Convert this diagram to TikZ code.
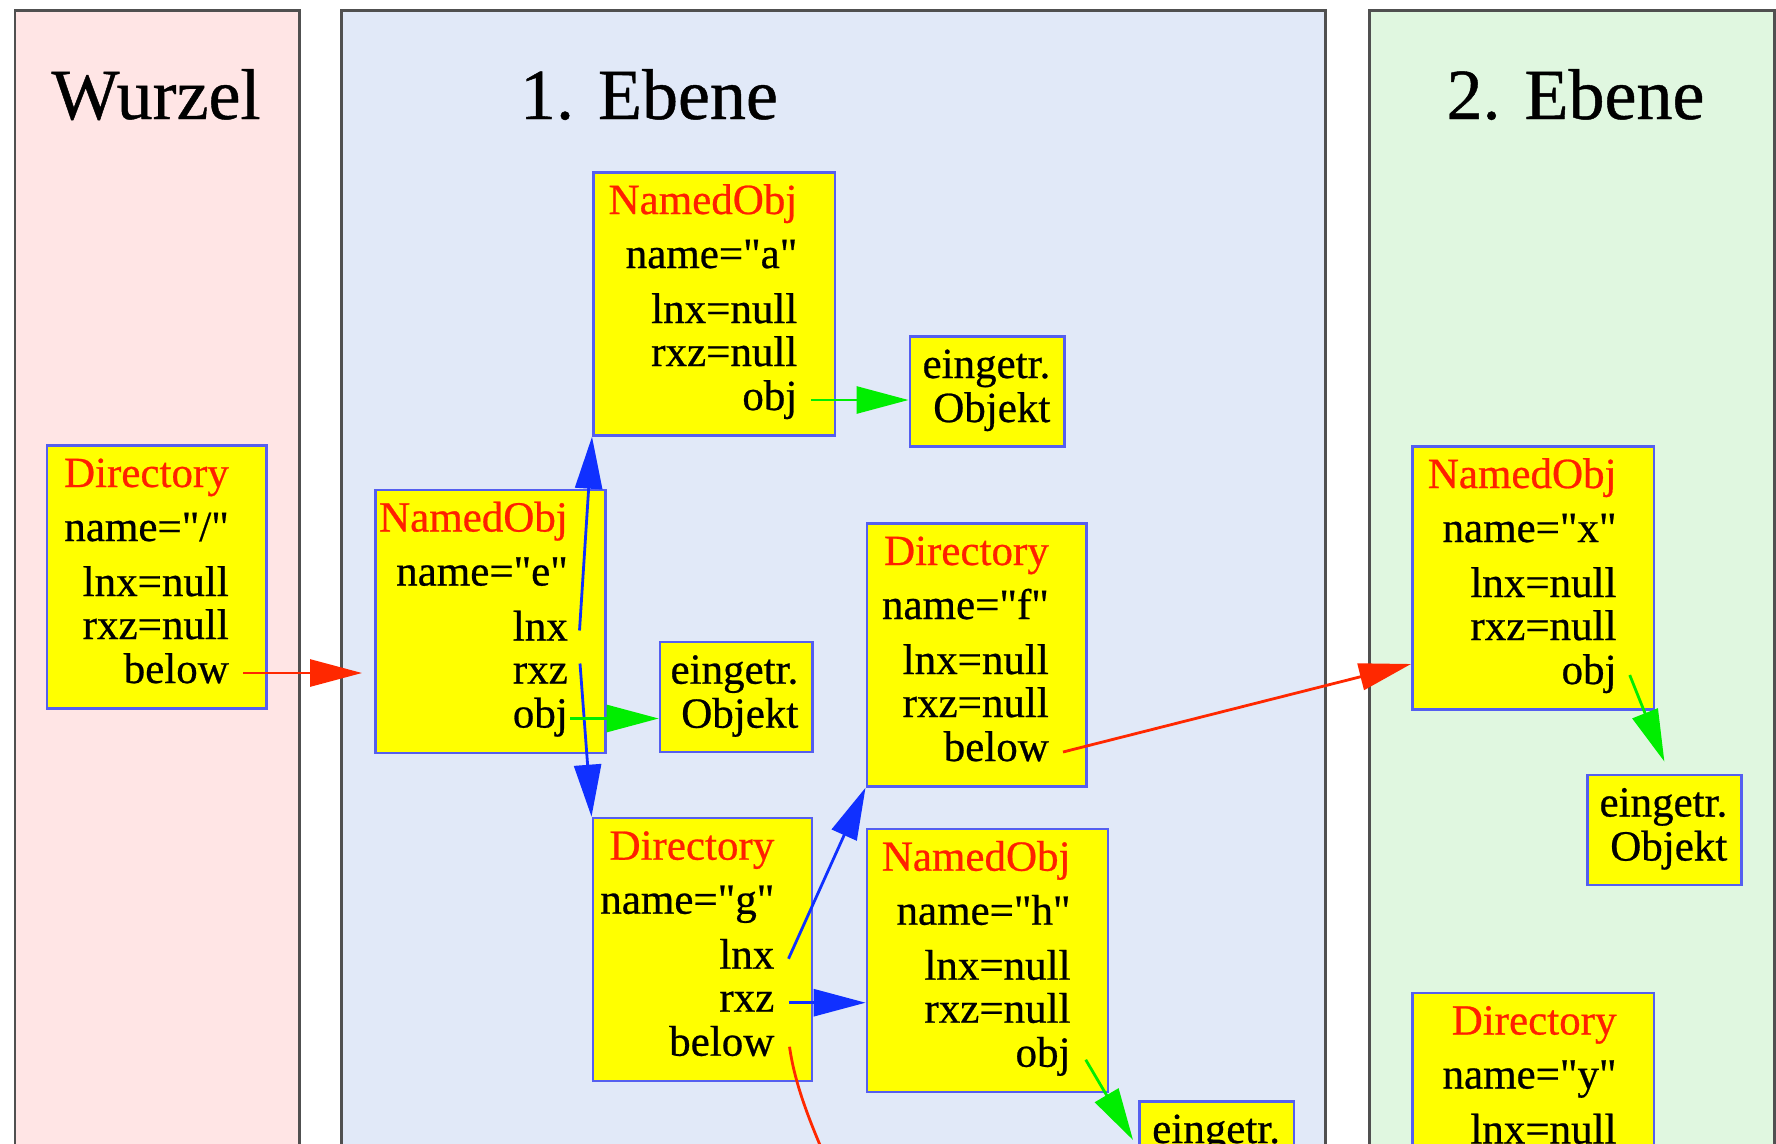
\documentclass[tikz,border=0pt]{standalone}
\usepackage{fontspec}
\setmainfont{Liberation Serif}[Ligatures=TeXOff, FakeBold=0.6]
\usetikzlibrary{arrows.meta}
\definecolor{panelgray}{RGB}{80,80,80}
\definecolor{pinkfill}{RGB}{255,229,229}
\definecolor{bluefill}{RGB}{225,233,248}
\definecolor{greenfill}{RGB}{224,247,224}
\definecolor{boxblue}{RGB}{85,95,240}
\definecolor{boxyellow}{RGB}{255,255,0}
\definecolor{titlered}{RGB}{255,32,0}
\definecolor{arrred}{RGB}{255,40,0}
\definecolor{arrblue}{RGB}{16,48,255}
\definecolor{arrgreen}{RGB}{0,238,0}
\tikzset{
  panel/.style={draw=panelgray, line width=2.5pt, inner sep=0pt, anchor=north west},
  objbox/.style={draw=boxblue, fill=boxyellow, line width=2.7pt, inner sep=0pt, anchor=north west},
  ln/.style={font=\fontsize{43}{50}\selectfont, inner sep=0pt, anchor=base east},
  hd/.style={ln, text=titlered},
  ttl/.style={font=\fontsize{72}{80}\selectfont, inner sep=0pt, anchor=base},
  conn/.style={line width=2.8pt, -{Triangle[length=52pt,width=27pt]}},
}
\newcommand\genbox[9]{%
  \node[objbox, minimum width={#4-#2}, minimum height=263] (#1) at (#2,#3) {};
  \node[hd] (#1-t) at (#4-36,#3+43) {#5};
  \node[ln] (#1-n) at (#4-36,#3+97) {#6};
  \node[ln] (#1-l) at (#4-36,#3+152) {#7};
  \node[ln] (#1-r) at (#4-36,#3+195) {#8};
  \node[ln] (#1-b) at (#4-36,#3+239) {#9};
}
\newcommand\eobox[4]{%
  \node[objbox, minimum width={#4-#2}, minimum height=110] (#1) at (#2,#3) {};
  \node[ln] (#1-1) at (#4-12.5,#3+43) {eingetr.};
  \node[ln] (#1-2) at (#4-12.5,#3+87) {Objekt};
}
\begin{document}
\begin{tikzpicture}[x=1pt,y=-1pt]
\useasboundingbox (0,0) rectangle (1776,1143);
\fill[white] (0,0) rectangle (1776,1143);
\clip (0,0) rectangle (1776,1143);
% panels
\node[panel, fill=pinkfill, minimum width=284.4, minimum height=1200] (p-root) at (13.6,9) {};
\node[panel, fill=bluefill, minimum width=984, minimum height=1200] (p-e1) at (340,9) {};
\node[panel, fill=greenfill, minimum width=405, minimum height=1200] (p-e2) at (1368,9) {};
\node[ttl] (t-root) at (156,119) {Wurzel};
\node[ttl] (t-e1) at (649,119) {1. Ebene};
\node[ttl] (t-e2) at (1575.5,119) {2. Ebene};
% boxes
\genbox{root}{45.5}{444}{265}{Directory}{name="/"}{lnx=null}{rxz=null}{below}
\genbox{a}{592}{171}{833.5}{NamedObj}{name="a"}{lnx=null}{rxz=null}{obj}
\eobox{ea}{908.5}{335}{1063}
\genbox{e}{374}{488.5}{604}{NamedObj}{name="e"}{lnx}{rxz}{obj}
\eobox{ee}{658.7}{640.7}{811}
\genbox{f}{865.5}{522}{1085}{Directory}{name="f"}{lnx=null}{rxz=null}{below}
\genbox{g}{591.5}{816.7}{810.5}{Directory}{name="g"}{lnx}{rxz}{below}
\genbox{h}{865.6}{827.7}{1106.7}{NamedObj}{name="h"}{lnx=null}{rxz=null}{obj}
\node[objbox, minimum width=154.7, minimum height=110] (eh) at (1138,1100) {};
\node[ln] (eh-1) at (1280.2,1143) {eingetr.};
\genbox{x}{1411}{445}{1652.7}{NamedObj}{name="x"}{lnx=null}{rxz=null}{obj}
\eobox{ex}{1586}{773.5}{1740}
\node[objbox, minimum width=241.7, minimum height=263] (y) at (1411,991.5) {};
\node[hd] (y-t) at (1616.7,1034.5) {Directory};
\node[ln] (y-n) at (1616.7,1088.5) {name="y"};
\node[ln] (y-l) at (1616.7,1143.5) {lnx=null};
% connectors
\draw[conn, arrred] ([shift={(14,-10)}]root-b.base east) -- ([shift={(-12,-10)}]root-b.base east -| e.west);
\draw[conn, arrblue] ([shift={(11.5,-10)}]e-l.base east) -- (a.south west);
\draw[conn, arrblue] ([shift={(12,-20)}]e-r.base east) -- (g.north west);
\draw[conn, arrgreen] ([shift={(2,-9)}]e-b.base east) -- ([shift={(0,-9)}]e-b.base east -| ee.west);
\draw[conn, arrgreen] ([shift={(13.4,-10)}]a-b.base east) -- ([shift={(0,-10)}]a-b.base east -| ea.west);
\draw[conn, arrblue] ([shift={(14,-10)}]g-l.base east) -- (f.south west);
\draw[conn, arrblue] ([shift={(14,-9)}]g-r.base east) -- ([shift={(0,-9)}]g-r.base east -| h.west);
\coordinate (gout) at (840,1190);
\draw[line width=2.8pt, arrred] ([shift={(15,-9)}]g-b.base east) .. controls (795,1085) and (810,1125) .. (gout);
\draw[conn, arrgreen] ([shift={(15,-7)}]h-b.base east) -- ([shift={(-5,40)}]eh.north west);
\draw[conn, arrred] ([shift={(14,-9)}]f-b.base east) -- ([shift={(0,-20)}]x-b.base east -| x.west);
\draw[conn, arrgreen] ([shift={(13,-9)}]x-b.base east) -- ([shift={(0,-12)}]ex.north);
\end{tikzpicture}
\end{document}
